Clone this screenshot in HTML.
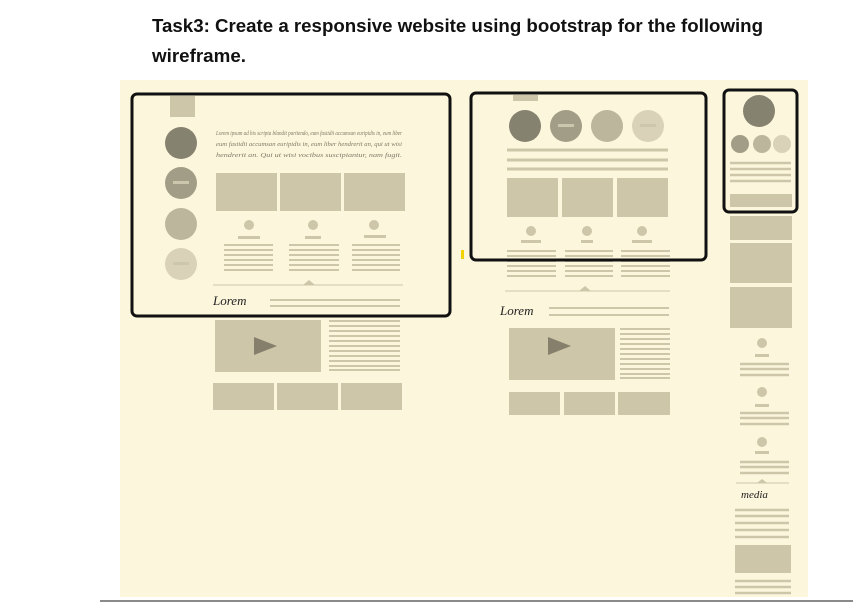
<!DOCTYPE html>
<html><head><meta charset="utf-8"><style>
html,body{margin:0;padding:0;background:#fff;width:853px;height:605px;overflow:hidden}
svg{display:block}
</style></head><body>
<svg width="853" height="605" viewBox="0 0 853 605" xmlns="http://www.w3.org/2000/svg">
<text x="152" y="32" font-family="Liberation Sans, sans-serif" font-weight="bold" font-size="18" fill="#111" textLength="611" lengthAdjust="spacingAndGlyphs">Task3:  Create a responsive website using bootstrap for the following</text>
<text x="152" y="62" font-family="Liberation Sans, sans-serif" font-weight="bold" font-size="18" fill="#111" textLength="94" lengthAdjust="spacingAndGlyphs">wireframe.</text>
<rect x="120" y="80" width="688" height="517" fill="#fcf6dc"/>
<g fill="#cdc6a9">
<rect x="170" y="96" width="25" height="21"/>
<rect x="216" y="173" width="61" height="38"/><rect x="280" y="173" width="61" height="38"/><rect x="344" y="173" width="61" height="38"/>
<circle cx="249" cy="225" r="5"/><circle cx="313" cy="225" r="5"/><circle cx="374" cy="225" r="5"/>
<rect x="238" y="236" width="22" height="3"/><rect x="305" y="236" width="16" height="3"/><rect x="364" y="235" width="22" height="3"/>
<rect x="215" y="320" width="106" height="52"/>
<rect x="213" y="383" width="61" height="27"/><rect x="277" y="383" width="61" height="27"/><rect x="341" y="383" width="61" height="27"/>
<rect x="513" y="95" width="25" height="6"/>
<rect x="507" y="178" width="51" height="39"/><rect x="562" y="178" width="51" height="39"/><rect x="617" y="178" width="51" height="39"/>
<circle cx="531" cy="231" r="5"/><circle cx="587" cy="231" r="5"/><circle cx="642" cy="231" r="5"/>
<rect x="521" y="240" width="20" height="3"/><rect x="581" y="240" width="12" height="3"/><rect x="632" y="240" width="20" height="3"/>
<rect x="509" y="328" width="106" height="52"/>
<rect x="509" y="392" width="51" height="23"/><rect x="564" y="392" width="51" height="23"/><rect x="618" y="392" width="52" height="23"/>
<rect x="730" y="194" width="62" height="13"/>
<rect x="730" y="216" width="62" height="24"/><rect x="730" y="243" width="62" height="40"/><rect x="730" y="287" width="62" height="41"/>
<circle cx="762" cy="343" r="5"/><circle cx="762" cy="392" r="5"/><circle cx="762" cy="442" r="5"/>
<rect x="755" y="354" width="14" height="3"/><rect x="755" y="404" width="14" height="3"/><rect x="755" y="451" width="14" height="3"/>
<rect x="735" y="545" width="56" height="28"/>
</g>
<g stroke="#cdc6a9" stroke-width="2">
<path d="M224 245H273M224 250H273M224 255H273M224 260H273M224 265H273M224 270H273"/>
<path d="M289 245H339M289 250H339M289 255H339M289 260H339M289 265H339M289 270H339"/>
<path d="M352 245H400M352 250H400M352 255H400M352 260H400M352 265H400M352 270H400"/>
<path d="M213 285H403" stroke-width="1"/>
<path d="M270 300H400M270 306H400" />
<path d="M329 321H400M329 326H400M329 331H400M329 336H400M329 341H400M329 346H400M329 351H400M329 356H400M329 361H400M329 366H400M329 370H400"/>
<path d="M507 150H668M507 160H668M507 169H668" stroke-width="3"/>
<path d="M507 251H556M507 256H556M507 261H556M507 266H556M507 271H556M507 276H556"/>
<path d="M565 251H613M565 256H613M565 261H613M565 266H613M565 271H613M565 276H613"/>
<path d="M621 251H670M621 256H670M621 261H670M621 266H670M621 271H670M621 276H670"/>
<path d="M505 291H670" stroke-width="1"/>
<path d="M549 308H669M549 315H669"/>
<path d="M620 329H670M620 334H670M620 339H670M620 344H670M620 349H670M620 354H670M620 359H670M620 364H670M620 369H670M620 374H670M620 378H670"/>
<path d="M730 163H791M730 169H791M730 175H791M730 181H791" stroke-width="2.5"/>
<path d="M740 364H789M740 369H789M740 375H789" stroke-width="2.5"/>
<path d="M740 413H789M740 418H789M740 424H789" stroke-width="2.5"/>
<path d="M740 462H789M740 467H789M740 473H789" stroke-width="2.5"/>
<path d="M736 483H789" stroke-width="1"/>
<path d="M735 510H789M735 516H789M735 523H789M735 530H789M735 537H789" stroke-width="2.5"/>
<path d="M735 581H791M735 587H791M735 593H791" stroke-width="2.5"/>
</g>
<g fill="#cdc6a9">
<path d="M303 285L309 280L315 285Z"/><path d="M579 291L585 286L591 291Z"/><path d="M757 483L762 479L767 483Z"/>
</g>
<circle cx="181" cy="143" r="16" fill="#868270"/>
<circle cx="181" cy="183" r="16" fill="#a29d87"/>
<circle cx="181" cy="224" r="16" fill="#bcb69d"/>
<circle cx="181" cy="264" r="16" fill="#d9d2b8"/>
<circle cx="525" cy="126" r="16" fill="#868270"/>
<circle cx="566" cy="126" r="16" fill="#a29d87"/>
<circle cx="607" cy="126" r="16" fill="#bcb69d"/>
<circle cx="648" cy="126" r="16" fill="#d9d2b8"/>
<circle cx="759" cy="111" r="16" fill="#868270"/>
<circle cx="740" cy="144" r="9" fill="#a29d87"/>
<circle cx="762" cy="144" r="9" fill="#bcb69d"/>
<circle cx="782" cy="144" r="9" fill="#d9d2b8"/>
<g fill="#ccc6ad"><rect x="173" y="181" width="16" height="3"/><rect x="173" y="262" width="16" height="3"/><rect x="558" y="124" width="16" height="3"/><rect x="640" y="124" width="16" height="3"/></g>
<path d="M254 337L254 355L277 346Z" fill="#857f6c"/>
<path d="M548 337L548 355L571 346Z" fill="#857f6c"/>
<g font-family="Liberation Serif, serif" font-style="italic" font-size="6" fill="#7f7a68">
<text x="216" y="135" textLength="186" lengthAdjust="spacingAndGlyphs">Lorem ipsum ad his scripta blandit partiendo, eum fastidii accumsan euripidis in, eum liber</text>
<text x="216" y="146" textLength="186" lengthAdjust="spacingAndGlyphs">eum fastidii accumsan euripidis in, eum liber hendrerit an, qui ut wisi</text>
<text x="216" y="157" textLength="186" lengthAdjust="spacingAndGlyphs">hendrerit an. Qui ut wisi vocibus suscipiantur, nam fugit.</text>
</g>
<g font-family="Liberation Serif, serif" font-style="italic" fill="#222">
<text x="213" y="305" font-size="13">Lorem</text>
<text x="500" y="315" font-size="13">Lorem</text>
<text x="741" y="498" font-size="11">media</text>
</g>
<g fill="none" stroke="#111" stroke-width="3">
<rect x="132" y="94" width="318" height="222" rx="5"/>
<rect x="471" y="93" width="235" height="167" rx="5"/>
<rect x="724" y="90" width="73" height="122" rx="5"/>
</g>
<rect x="461" y="250" width="3" height="9" fill="#f2d200"/>
<rect x="100" y="600" width="753" height="2" fill="#8a8a8a"/>
</svg>
</body></html>
